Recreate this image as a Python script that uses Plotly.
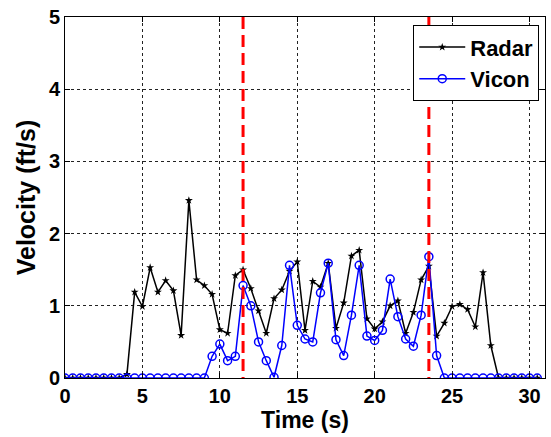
import plotly.graph_objects as go

# ---- data ----
time_s = [i * 0.5 for i in range(62)]  # 0 .. 30.5 s, 0.5 s steps

radar = [0, 0, 0, 0, 0, 0, 0, 0,
         0.05, 1.19, 0.99, 1.53, 1.19, 1.35, 1.21, 0.59,
         2.46, 1.36, 1.28, 1.16, 0.67, 0.62, 1.42, 1.50,
         1.24, 0.93, 0.62, 1.10, 1.22, 1.48, 1.61, 0.66,
         1.34, 1.26, 1.59, 0.69, 1.04, 1.69, 1.77, 0.82,
         0.68, 0.78, 1.00, 1.07, 0.62, 0.91, 1.36, 1.55,
         0.58, 0.76, 0.99, 1.02, 0.95, 0.71, 1.46, 0.45,
         0, 0, 0, 0, 0, 0]

vicon = [0, 0, 0, 0, 0, 0, 0, 0,
         0, 0, 0, 0, 0, 0, 0, 0,
         0, 0, 0, 0.30, 0.47, 0.24, 0.30, 1.28,
         1.00, 0.50, 0.24, 0.01, 0.45, 1.56, 0.73, 0.54,
         0.50, 1.18, 1.59, 0.53, 0.31, 0.87, 1.56, 0.58,
         0.52, 0.66, 1.37, 0.85, 0.54, 0.44, 0.87, 1.68,
         0.31, 0, 0, 0, 0, 0, 0, 0,
         0, 0, 0, 0, 0, 0]

event_times = [11.5, 23.5]
x_ticks = [0, 5, 10, 15, 20, 25, 30]
y_ticks = [0, 1, 2, 3, 4, 5]
x_limits = [0, 31]
y_limits = [0, 5]

FONT = "Liberation Sans, Arial, sans-serif"

fig = go.Figure()

fig.add_trace(go.Scatter(
    x=time_s, y=radar, mode="lines+markers", name="Radar",
    line=dict(color="black", width=1.5),
    marker=dict(symbol="star", size=6, color="black")))

fig.add_trace(go.Scatter(
    x=time_s, y=vicon, mode="lines+markers", name="Vicon",
    line=dict(color="#0000ff", width=1.5),
    marker=dict(symbol="circle-open", size=8, color="#0000ff",
                line=dict(width=1.5, color="#0000ff"))))

# event markers: red dashed verticals drawn from top to bottom
for t in event_times:
    fig.add_trace(go.Scatter(
        x=[t, t], y=y_limits[::-1], mode="lines",
        line=dict(color="#ff0000", width=3, dash="12px,6px"),
        showlegend=False, hoverinfo="skip"))

axis_common = dict(
    showline=True, linecolor="black", linewidth=1, mirror="ticks",
    ticks="inside", ticklen=5, tickcolor="black",
    showgrid=True, gridcolor="#222222", gridwidth=1, griddash="3px,3px",
    zeroline=False, ticklabeloverflow="allow",
    tickfont=dict(family=FONT, size=20, color="black", weight="bold"),
)

fig.update_xaxes(
    range=x_limits, tickvals=x_ticks,
    title=dict(text="Time (s)", font=dict(family=FONT, size=23, color="black", weight="bold"),
               standoff=2),
    **axis_common)
fig.update_yaxes(
    range=y_limits, tickvals=y_ticks,
    title=dict(text="Velocity (ft/s)", font=dict(family=FONT, size=25, color="black", weight="bold"),
               standoff=6),
    **axis_common)

fig.update_layout(
    width=551, height=437,
    margin=dict(l=65, r=6, t=17, b=59, autoexpand=False),
    paper_bgcolor="white", plot_bgcolor="white",
    font=dict(family=FONT, color="black"),
    legend=dict(
        x=0.988, y=0.977, xanchor="right", yanchor="top",
        bgcolor="white", bordercolor="black", borderwidth=1,
        font=dict(family=FONT, size=22, color="black", weight="bold"),
        itemwidth=46, tracegroupgap=0,
    ),
)

# remove the default page margin so the figure fills the window exactly
fig.write_html("out.html", config={"displayModeBar": False},
               post_script="document.body.style.margin='0';")
